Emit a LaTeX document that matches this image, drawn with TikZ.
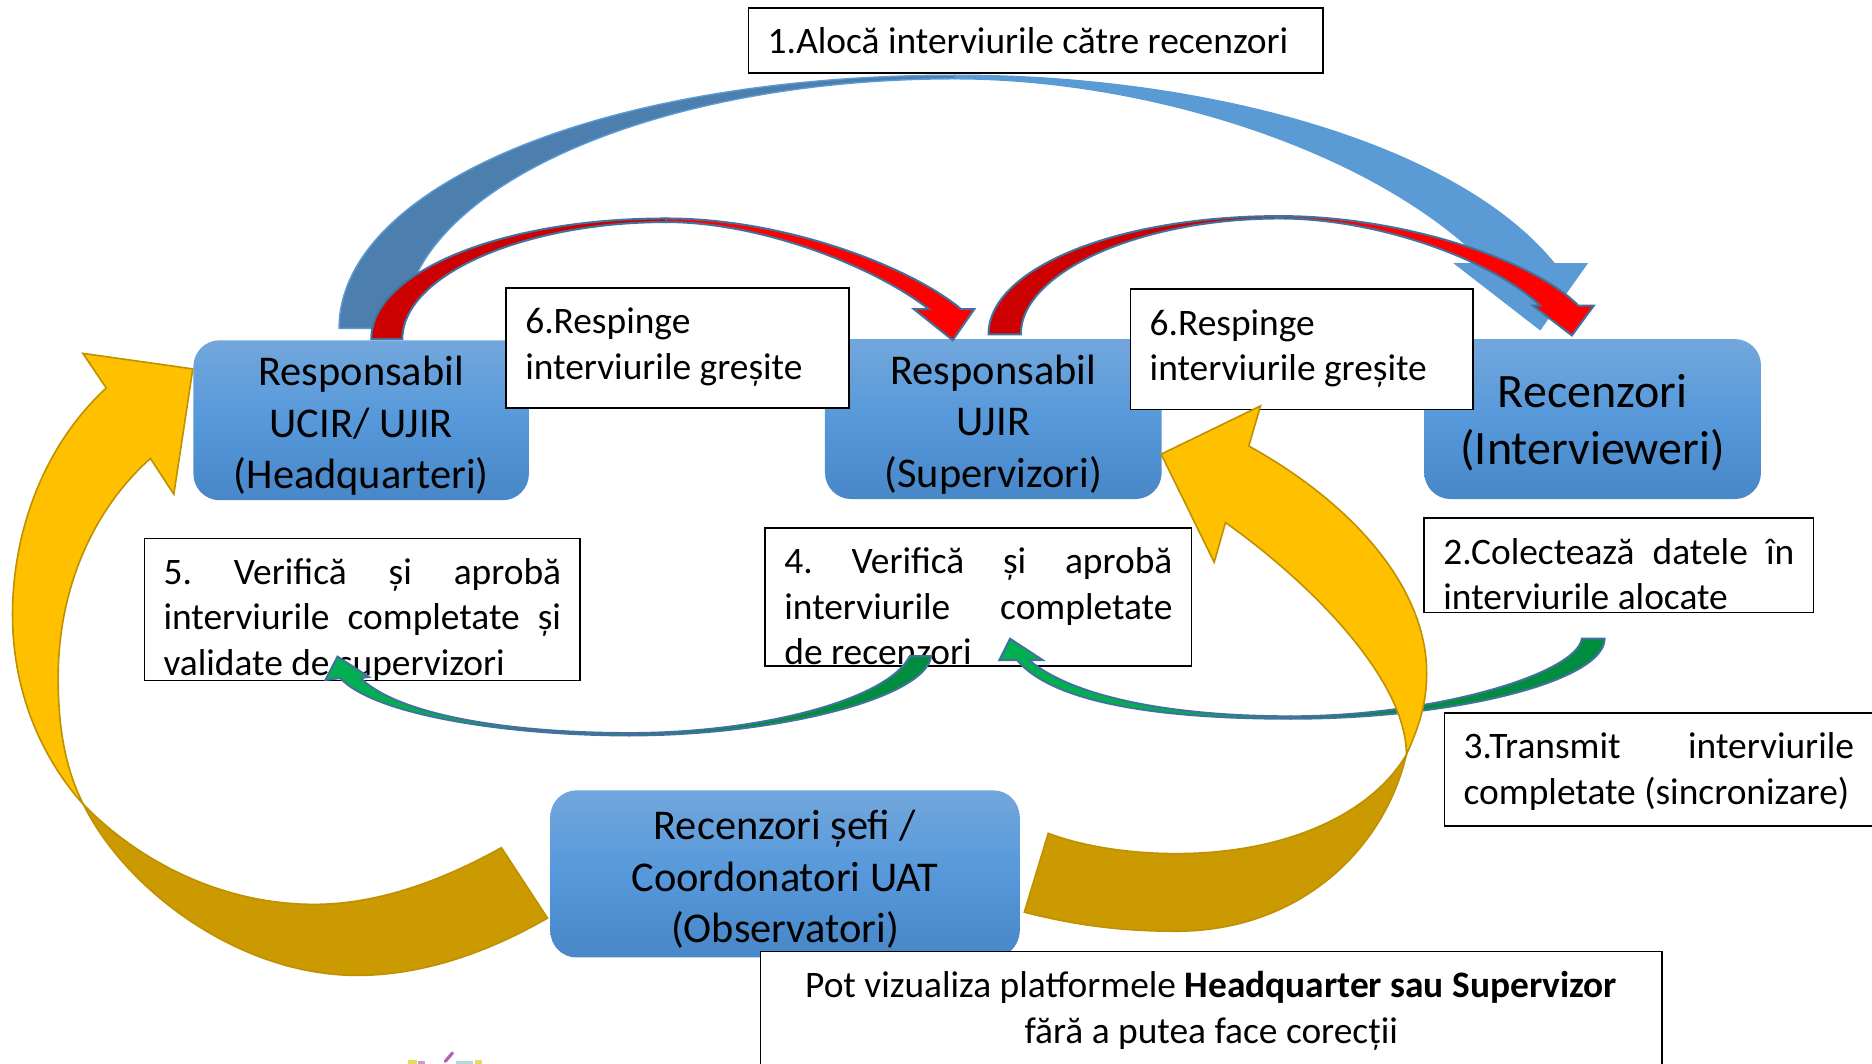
\documentclass[tikz,border=0pt]{standalone}
\usepackage{fontspec}
\setmainfont{Carlito}
\newdimen\U \U=0.59694pt
\definecolor{bbTop}{HTML}{72A7DC}
\definecolor{bbMid}{HTML}{5698DA}
\definecolor{bbBot}{HTML}{4887C8}
\definecolor{arrLight}{HTML}{5B9BD5}
\definecolor{arrDark}{HTML}{4C7FAE}
\definecolor{edgeBlue}{HTML}{41719C}
\definecolor{redDark}{HTML}{CC0000}
\definecolor{grnLight}{HTML}{00B050}
\definecolor{grnDark}{HTML}{008D40}
\definecolor{yelLight}{HTML}{FFC000}
\definecolor{yelDark}{HTML}{CB9900}
\definecolor{yelEdge}{HTML}{BF9000}
\tikzset{
  bluebox/.style={rectangle,rounded corners=22*\U,inner sep=0pt,align=center,
    top color=bbTop,bottom color=bbBot,middle color=bbMid,shading=axis},
  midtext/.style={font=\fontsize{21.2pt}{25.7pt}\selectfont},
  bigtext/.style={font=\fontsize{24pt}{28.7pt}\selectfont},
  whitebox/.style={rectangle,draw=black,line width=0.85pt,fill=white,inner xsep=16*\U,inner ysep=0pt},
  bluearrow/.style={line width=0.7pt,line join=miter},
  redarrow/.style={draw=edgeBlue,line width=1pt,line join=miter},
  greenarrow/.style={draw=edgeBlue,line width=1pt,line join=miter},
  yelarrow/.style={draw=yelEdge,line width=0.8pt,line join=miter},
}
\newcommand\bxt[4]{\parbox[c][#1\U][t]{#2\U}{\raggedright\fontsize{18.7pt}{22.7pt}\selectfont\vspace*{#3\U}\strut #4}}
\newcommand\lowr{\rule{0pt}{20.3pt}}
\begin{document}
\begin{tikzpicture}[x=0.59694pt,y=-0.59694pt]
\useasboundingbox (0,0) rectangle (1568,891.2);
% big blue arrow
\draw[bluearrow,draw=arrLight,fill=arrLight]
  (800,63) .. controls (1010,63) and (1220,120) .. (1302,221) -- (1329,221) -- (1290,276) -- (1219,221) -- (1245,221)
  .. controls (1150,125) and (960,66) .. (800,66) -- cycle;
\draw[bluearrow,draw=arrLight,fill=arrDark]
  (284,275) .. controls (284,158) and (500,63) .. (800,63) -- (800,66)
  .. controls (545,66) and (338,160) .. (338,275) -- cycle;
% blue boxes
\node[bluebox,midtext,minimum width=281*\U,minimum height=134*\U] (hq) at (302.5,352)
  {\lowr Responsabil\\UCIR/ UJIR\\(Headquarteri)};
\node[bluebox,midtext,minimum width=282*\U,minimum height=134*\U] (sup) at (832,351)
  {\lowr Responsabil\\UJIR\\(Supervizori)};
\node[bluebox,bigtext,minimum width=282*\U,minimum height=134*\U] (rec) at (1334,351)
  {\lowr Recenzori\\(Intervieweri)};
\node[bluebox,midtext,minimum width=393*\U,minimum height=140*\U] (obs) at (657.5,732)
  {\lowr Recenzori șefi /\\Coordonatori UAT\\(Observatori)};
% red arrows
\draw[redarrow,fill=redDark]
  (311,284) .. controls (311,228) and (420,183) .. (558,183) -- (558,186)
  .. controls (440,186) and (337,230) .. (337,284) -- cycle;
\draw[redarrow,fill=red]
  (558,183) .. controls (660,183) and (765,225) .. (805,259) -- (816,259) -- (798,285) -- (765.5,259) -- (778,259)
  .. controls (735,225) and (640,186) .. (558,186) -- cycle;
\draw[redarrow,fill=redDark]
  (828,280) .. controls (828,225) and (935,181) .. (1072,181) -- (1072,183)
  .. controls (955,183) and (855,228) .. (855,280) -- cycle;
\draw[redarrow,fill=red]
  (1072,181) .. controls (1175,181) and (1285,218) .. (1322,256) -- (1335,256) -- (1316.6,281) -- (1284,256) -- (1290,256)
  .. controls (1250,218) and (1155,183) .. (1072,183) -- cycle;
% white boxes
\node[whitebox] (top) at (867.5,34) {\parbox[c][54\U][c]{449\U}{\fontsize{18.7pt}{22.7pt}\selectfont 1.Alocă interviurile către recenzori}};
\node[whitebox] (rejA) at (567.5,291.5) {\bxt{101}{255}{12}{6.Respinge\\interviurile greșite}};
\node[whitebox] (rejB) at (1090.5,292.5) {\bxt{101}{255}{12}{6.Respinge\\interviurile greșite}};
\node[whitebox] (five) at (303.5,510.5) {\bxt{119}{333}{12}{5.\hfill Verifică\hfill și\hfill aprobă\\interviurile\hfill completate\hfill și\\validate de supervizori}};
\node[whitebox] (four) at (819.5,500) {\bxt{116}{325}{12}{4.\hfill Verifică\hfill și\hfill aprobă\\interviurile\hfill completate\\de recenzori}};
\node[whitebox] (two) at (1356,473.5) {\bxt{79}{294}{12}{2.Colectează\hfill datele\hfill în\\interviurile alocate}};
\node[whitebox] (three) at (1389.5,644.5) {\bxt{95}{327}{12}{3.Transmit\hfill interviurile\\completate (sincronizare)}};
\node[whitebox] (note) at (1014.5,850) {\parbox[c][106\U][t]{723\U}{\centering\fontsize{18.7pt}{22.7pt}\selectfont\vspace*{12\U}\strut Pot vizualiza platformele \textbf{Headquarter sau Supervizor}\\fără a putea face corecții}};
% green arrows
\draw[greenarrow,fill=grnDark]
  (762,549.5) .. controls (745,585) and (640,614) .. (527,614) -- (527,616)
  .. controls (650,616) and (775,585) .. (780,549.5) -- cycle;
\draw[greenarrow,fill=grnLight]
  (527,614) .. controls (430,614) and (335,600) .. (302,568) -- (309,567) -- (282.7,550) -- (272.6,569.5) -- (285,568)
  .. controls (315,600) and (430,616) .. (527,616) -- cycle;
\draw[greenarrow,fill=grnDark]
  (1325,535) .. controls (1320,565) and (1200,600) .. (1081,600) -- (1081,602)
  .. controls (1220,602) and (1344,570) .. (1344,535) -- cycle;
\draw[greenarrow,fill=grnLight]
  (1081,600) .. controls (985,600) and (900,585) .. (862,553) -- (873.5,553) -- (846,535) -- (837,553) -- (852,553)
  .. controls (885,592) and (985,602) .. (1081,602) -- cycle;
% yellow arrow, left
\draw[yelarrow,fill=yelDark]
  (70,674) .. controls (105,745) and (200,817) .. (299,817) .. controls (355,817) and (410,797) .. (458.6,769)
  -- (420,710) .. controls (375,735) and (320,757.5) .. (263,757.5) .. controls (190,757.5) and (120,725) .. (70,674) -- cycle;
\draw[yelarrow,fill=yelLight]
  (70,674) .. controls (35,635) and (10.5,580) .. (10.5,515) .. controls (10.5,440) and (40,370) .. (89,325)
  -- (69.4,296) -- (161.5,309) -- (145.6,414) -- (126,384)
  .. controls (80,425) and (48.7,490) .. (48.7,568) .. controls (48.7,610) and (55,645) .. (70,674) -- cycle;
% yellow arrow, right
\draw[yelarrow,fill=yelDark]
  (1178,632) .. controls (1160,710) and (1090,780) .. (985,780) .. controls (940,780) and (900,775) .. (858,764)
  -- (878,698) .. controls (910,710) and (950,715) .. (985,715) .. controls (1080,715) and (1150,680) .. (1178,632) -- cycle;
\draw[yelarrow,fill=yelLight]
  (1178,632) .. controls (1188,610) and (1195,590) .. (1195,564) .. controls (1195,490) and (1130,420) .. (1046,373.6)
  -- (1055.8,340) -- (972.6,380.4) -- (1017,471) -- (1026.5,437.7)
  .. controls (1100,490) and (1178,570) .. (1178,632) -- cycle;
% fragment of a picture at the lower edge
\draw[line width=1.6pt,draw=violet!60!white,line cap=round] (373,889) -- (379,882);
\fill[yellow!60!olive!60] (342,888) rectangle (349,892);
\fill[yellow!60!olive!60] (398,888) rectangle (404,892);
\fill[violet!40] (350,889) rectangle (356,892);
\fill[teal!30] (382,889) rectangle (396,892);
\end{tikzpicture}
\end{document}
